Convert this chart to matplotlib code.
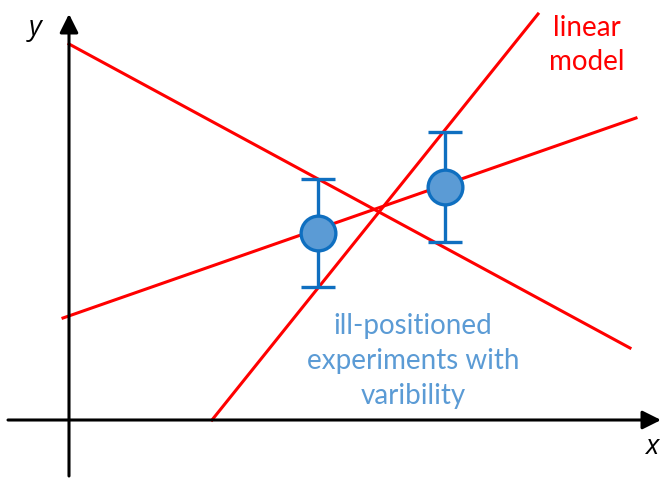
import numpy as np
import matplotlib.pyplot as plt

# red model lines: (x0, y0, x1, y1) in the diagram's own units (origin at axis crossing)
line_starts_x = [0, -6, 143]
line_starts_y = [376, 102, 0]
line_ends_x = [561, 567, 469]
line_ends_y = [72, 302, 406]

# measured points with their variability
pt_x = [249, 376]
pt_y = [187, 233]
pt_err = [54, 55]

red = '#ff0000'
blue_edge = '#0f6fc0'
blue_fill = '#5b9bd5'

fig = plt.figure(figsize=(6.61, 4.78), dpi=100)
ax = fig.add_axes([0, 0, 1, 1])
ax.set_xlim(-69, 592)
ax.set_ylim(-58, 420)
ax.axis('off')

# axes drawn as arrows
ax.annotate('', xy=(592, 0), xytext=(-61, 0),
            arrowprops=dict(arrowstyle='-|>', color='black', lw=2.2,
                            mutation_scale=28, shrinkA=0, shrinkB=0))
ax.annotate('', xy=(0, 406), xytext=(0, -56),
            arrowprops=dict(arrowstyle='-|>', color='black', lw=2.2,
                            mutation_scale=28, shrinkA=0, shrinkB=0))

for x0, y0, x1, y1 in zip(line_starts_x, line_starts_y, line_ends_x, line_ends_y):
    ax.plot([x0, x1], [y0, y1], color=red, lw=2.2, zorder=2)

ax.errorbar(pt_x, pt_y, yerr=pt_err, fmt='o', ms=25, mfc=blue_fill,
            mec=blue_edge, mew=2.4, ecolor=blue_edge, elinewidth=2.4,
            capsize=12, capthick=2.4, zorder=3)

ax.text(-34, 392, 'y', fontsize=20, style='italic', ha='center', va='center',
        family='Open Sans')
ax.text(583, -27, 'x', fontsize=20, style='italic', ha='center', va='center',
        family='Open Sans')
ax.text(518, 375, 'linear\nmodel', fontsize=20, color=red, ha='center',
        va='center', family='Lato', linespacing=1.38)
ax.text(344, 59, 'ill-positioned\nexperiments with\nvaribility', fontsize=20,
        color=blue_fill, ha='center', va='center', family='Lato',
        linespacing=1.42)

fig.savefig('out.png', dpi=100)
